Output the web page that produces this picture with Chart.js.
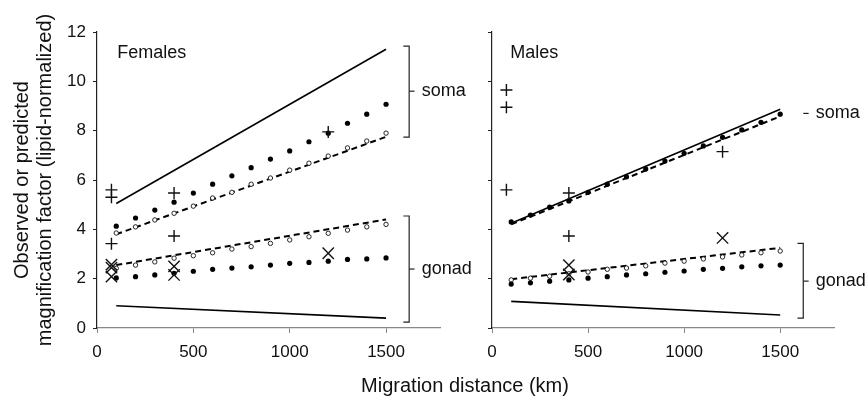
<!DOCTYPE html>
<html>
<head>
<meta charset="utf-8">
<script src="https://cdn.jsdelivr.net/npm/chart.js@4/dist/chart.umd.min.js"></script>
<style>
  html, body { margin: 0; padding: 0; background: #fff; }
  #wrap { position: relative; width: 867px; height: 396px; }
  #wrap canvas { position: absolute; left: 0; top: 0; }
  #xtitle {
    position: absolute; left: 265px; width: 400px; top: 374px;
    text-align: center; line-height: 22px; color: #111;
    font: 20px "Liberation Sans", Arial, sans-serif;
  }
</style>
</head>
<body>
<div id="wrap">
  <canvas id="females" width="867" height="396"></canvas>
  <canvas id="males" width="867" height="396"></canvas>
  <div id="xtitle">Migration distance (km)</div>
</div>
<script>
// ── Data ────────────────────────────────────────────────────────────
const dist = [100, 200, 300, 400, 500, 600, 700, 800, 900, 1000, 1100, 1200, 1300, 1400, 1500];
const lineX = [100, 1500];
const xTicks = [0, 500, 1000, 1500];

// Females
const fSomaFilled  = [4.13, 4.46, 4.78, 5.10, 5.47, 5.83, 6.17, 6.50, 6.85, 7.18, 7.55, 7.90, 8.30, 8.67, 9.07];
const fSomaOpen    = [3.85, 4.10, 4.38, 4.65, 4.94, 5.27, 5.50, 5.83, 6.08, 6.40, 6.68, 6.97, 7.30, 7.58, 7.90];
const fGonadFilled = [2.03, 2.08, 2.15, 2.22, 2.30, 2.38, 2.43, 2.48, 2.55, 2.62, 2.66, 2.71, 2.78, 2.80, 2.84];
const fGonadOpen   = [2.42, 2.55, 2.68, 2.83, 2.93, 3.05, 3.20, 3.30, 3.43, 3.57, 3.70, 3.84, 3.97, 4.10, 4.20];
const fSomaSolid   = [5.05, 11.30];
const fSomaDashed  = [3.80, 7.75];
const fGonadSolid  = [0.90, 0.40];
const fGonadDashed = [2.55, 4.40];
const fPlusX  = [75, 75, 75, 400, 400, 1200];
const fPlusY  = [5.60, 5.30, 3.42, 5.47, 3.73, 7.95];
const fCrossX = [75, 75, 75, 400, 400, 1200];
const fCrossY = [2.57, 2.45, 2.08, 2.50, 2.15, 3.03];

// Males
const mSomaFilled  = [4.30, 4.58, 4.90, 5.15, 5.50, 5.83, 6.13, 6.45, 6.77, 7.08, 7.38, 7.73, 8.03, 8.34, 8.67];
const mGonadFilled = [1.78, 1.83, 1.90, 1.95, 2.02, 2.08, 2.15, 2.20, 2.26, 2.31, 2.38, 2.42, 2.48, 2.52, 2.55];
const mGonadOpen   = [1.95, 2.02, 2.10, 2.20, 2.27, 2.38, 2.43, 2.52, 2.63, 2.71, 2.80, 2.88, 2.96, 3.05, 3.12];
const mSomaSolid   = [4.25, 8.87];
const mSomaDashed  = [4.20, 8.58];
const mGonadSolid  = [1.08, 0.53];
const mGonadDashed = [1.98, 3.25];
const mPlusX  = [75, 75, 75, 400, 400, 1200];
const mPlusY  = [9.65, 8.95, 5.60, 5.47, 3.73, 7.15];
const mCrossX = [400, 400, 1200];
const mCrossY = [2.55, 2.17, 3.65];

// bracket spans on the right of each panel: [low, high, label level]
const fBrackets = [[7.74, 11.43, 9.60], [0.24, 4.54, 2.39]];
const mBrackets = [[null, null, 8.70], [0.40, 3.43, 1.90]];
const bracketLabels = ['soma', 'gonad'];

// ── Helpers ─────────────────────────────────────────────────────────
const FONT = '"Liberation Sans", Arial, sans-serif';
const pts = (xs, ys) => xs.map((v, i) => ({ x: v, y: ys[i] }));

function bracketSets(list) {
  const out = [];
  list.forEach(function(b) {
    if (b[0] !== null) {
      out.push([{ x: 1590, y: b[1] }, { x: 1620, y: b[1] }, { x: 1620, y: b[0] }, { x: 1590, y: b[0] }]);
    }
    out.push([{ x: 1620, y: b[2] }, { x: 1648, y: b[2] }]);
  });
  return out.map(d => ({ data: d, showLine: true, pointRadius: 0, borderColor: '#222', borderWidth: 1.2 }));
}

// panel title + bracket labels, placed through the scales
const panelText = {
  id: 'panelText',
  afterDatasetsDraw(chart, args, opts) {
    const { ctx, scales: { x, y } } = chart;
    ctx.save();
    ctx.fillStyle = '#111';
    ctx.textAlign = 'left';
    ctx.textBaseline = 'middle';
    ctx.font = '18px ' + FONT;
    ctx.fillText(opts.title, x.getPixelForValue(opts.titleX), y.getPixelForValue(11.15));
    opts.brackets.forEach(function(b, i) {
      ctx.fillText(bracketLabels[i], x.getPixelForValue(1685), y.getPixelForValue(b[2]));
    });
    ctx.restore();
  }
};

function makePanel(id, p) {
  const solid = { showLine: true, pointRadius: 0, borderColor: '#000', borderWidth: 1.6 };
  const dashed = { showLine: true, pointRadius: 0, borderColor: '#000', borderWidth: 2, borderDash: [6, 4] };
  const filled = { pointRadius: 2.6, backgroundColor: '#000', borderWidth: 0 };
  const open = { pointRadius: 2.2, backgroundColor: '#fff', borderColor: '#111', borderWidth: 0.9 };

  const datasets = [
    { data: pts(p.plusX, p.plusY), pointStyle: 'cross', pointRadius: 6, borderColor: '#111', borderWidth: 1.4 },
    { data: pts(p.crossX, p.crossY), pointStyle: 'crossRot', pointRadius: 8, borderColor: '#111', borderWidth: 1.4 },
  ];
  p.filled.forEach(s => datasets.push(Object.assign({ data: pts(dist, s) }, filled)));
  p.open.forEach(s => datasets.push(Object.assign({ data: pts(dist, s) }, open)));
  p.dashed.forEach(s => datasets.push(Object.assign({ data: pts(lineX, s) }, dashed)));
  p.solid.forEach(s => datasets.push(Object.assign({ data: pts(lineX, s) }, solid)));
  bracketSets(p.brackets).forEach(d => datasets.push(d));
  datasets.forEach(d => { d.clip = false; });

  return new Chart(document.getElementById(id), {
    type: 'scatter',
    data: { datasets },
    plugins: [panelText],
    options: {
      responsive: false,
      animation: false,
      devicePixelRatio: 1,
      events: [],
      layout: { padding: { left: 0, top: 32, right: p.padRight, bottom: 0 } },
      plugins: {
        legend: { display: false },
        tooltip: { enabled: false },
        panelText: { title: p.title, titleX: p.titleX, brackets: p.brackets }
      },
      scales: {
        x: {
          type: 'linear', min: 0, max: 1780,
          afterBuildTicks: s => { s.ticks = xTicks.map(v => ({ value: v })); },
          afterFit: s => { s.height = 68; },
          grid: { display: true, drawOnChartArea: false, drawTicks: true, tickLength: 5, color: '#888', tickColor: '#888' },
          border: { display: true, color: '#888', width: 1.3 },
          ticks: { color: '#111', padding: 9, font: { family: FONT, size: 17 }, callback: v => String(v) }
        },
        y: {
          min: 0, max: 12,
          afterFit: s => { s.width = p.yWidth; },
          grid: { display: true, drawOnChartArea: false, drawTicks: true, tickLength: 4, color: '#222', tickColor: '#222' },
          border: { display: true, color: '#222', width: 1.2 },
          ticks: { display: p.yLabels, stepSize: 2, color: '#111', padding: 7, font: { family: FONT, size: 17 } },
          title: {
            display: p.yLabels,
            text: ['Observed or predicted', 'magnification factor (lipid-normalized)'],
            color: '#111',
            padding: { top: 11, bottom: 0 },
            font: { family: FONT, size: 20, lineHeight: 1.15 }
          }
        }
      }
    }
  });
}

makePanel('females', {
  title: 'Females', titleX: 105, padRight: 427, yWidth: 97, yLabels: true,
  plusX: fPlusX, plusY: fPlusY, crossX: fCrossX, crossY: fCrossY,
  filled: [fSomaFilled, fGonadFilled], open: [fSomaOpen, fGonadOpen],
  dashed: [fSomaDashed, fGonadDashed], solid: [fSomaSolid, fGonadSolid],
  brackets: fBrackets
});

makePanel('males', {
  title: 'Males', titleX: 95, padRight: 33, yWidth: 492, yLabels: false,
  plusX: mPlusX, plusY: mPlusY, crossX: mCrossX, crossY: mCrossY,
  filled: [mSomaFilled, mGonadFilled], open: [mGonadOpen],
  dashed: [mSomaDashed, mGonadDashed], solid: [mSomaSolid, mGonadSolid],
  brackets: mBrackets
});
</script>
</body>
</html>
